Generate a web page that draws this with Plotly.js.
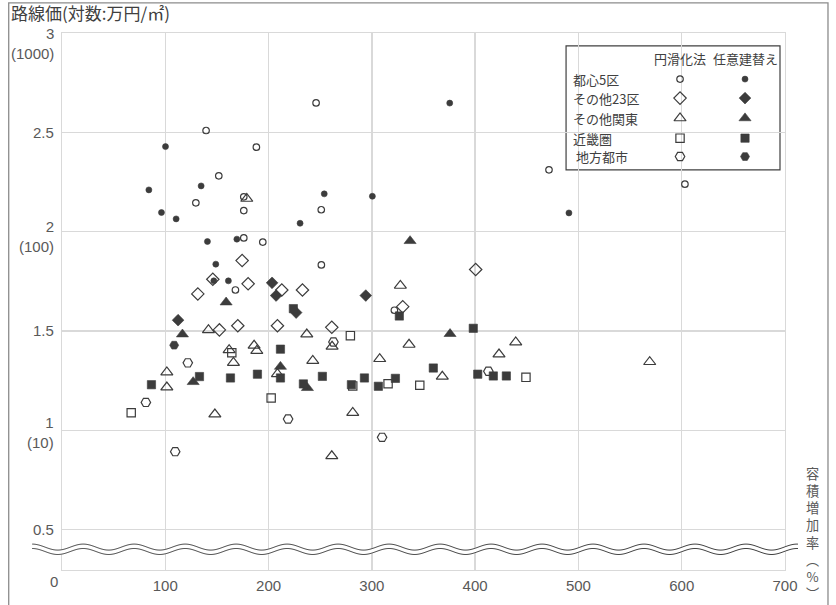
<!DOCTYPE html>
<html><head><meta charset="utf-8">
<script src="https://cdn.plot.ly/plotly-3.0.1.min.js"></script>
<style>html,body{margin:0;padding:0;background:#fff;}#chart{width:836px;height:605px;}</style>
</head><body><div id="chart"></div>
<script>
// ---- data (x: 容積増加率 %, y: log10 路線価[万円/㎡]) ----
const seriesNames = ["都心5区", "その他23区", "その他関東", "近畿圏", "地方都市"];
const methodNames = ["円滑化法", "任意建替え"];

const toshin_enkatsu_x = [139.5, 188.2, 151.8, 129.6, 176.0, 176.0, 176.0, 194.4, 167.9, 251.1, 321.8, 471.5, 603.1, 246.0, 251.0];
const toshin_enkatsu_y = [2.509, 2.425, 2.281, 2.145, 2.175, 2.106, 1.968, 1.947, 1.706, 1.832, 1.604, 2.311, 2.239, 2.648, 2.110];
const toshin_nini_x = [100.2, 84.1, 134.7, 96.3, 110.5, 140.8, 169.3, 148.9, 230.5, 147.0, 161.1, 375.4, 300.5, 490.8, 253.9];
const toshin_nini_y = [2.428, 2.210, 2.230, 2.096, 2.064, 1.950, 1.962, 1.836, 2.042, 1.752, 1.752, 2.647, 2.178, 2.094, 2.190];

const ku23_enkatsu_x = [174.4, 146.0, 180.2, 131.5, 212.8, 232.8, 152.4, 170.2, 208.6, 329.9, 400.5, 261.2];
const ku23_enkatsu_y = [1.854, 1.760, 1.737, 1.686, 1.706, 1.706, 1.505, 1.526, 1.526, 1.622, 1.809, 1.518];
const ku23_nini_x = [203.4, 207.3, 226.7, 112.4, 294.1];
const ku23_nini_y = [1.742, 1.678, 1.592, 1.554, 1.678];

const kanto_enkatsu_x = [178.9, 141.8, 237.0, 161.8, 186.0, 188.6, 166.0, 242.8, 101.5, 101.5, 208.6, 148.0, 327.6, 261.5, 336.0, 307.6, 368.2, 423.1, 439.3, 281.5, 261.2, 569.0];
const kanto_enkatsu_y = [2.166, 1.505, 1.483, 1.404, 1.426, 1.400, 1.340, 1.350, 1.292, 1.216, 1.283, 1.080, 1.728, 1.421, 1.431, 1.359, 1.270, 1.382, 1.443, 1.088, 0.870, 1.344];
const kanto_nini_x = [158.9, 116.6, 127.0, 211.5, 237.6, 375.7, 337.0];
const kanto_nini_y = [1.644, 1.483, 1.243, 1.320, 1.213, 1.485, 1.953];

const kinki_enkatsu_x = [164.4, 67.0, 202.5, 279.2, 281.5, 315.7, 346.4, 449.2];
const kinki_enkatsu_y = [1.390, 1.088, 1.162, 1.476, 1.223, 1.234, 1.226, 1.266];
const kinki_nini_x = [224.0, 211.5, 86.6, 133.1, 163.1, 189.2, 211.5, 233.7, 252.1, 280.2, 292.8, 306.3, 322.8, 326.6, 359.5, 398.2, 402.5, 417.6, 430.2];
const kinki_nini_y = [1.612, 1.408, 1.229, 1.270, 1.263, 1.282, 1.263, 1.233, 1.271, 1.229, 1.263, 1.221, 1.261, 1.575, 1.313, 1.513, 1.282, 1.273, 1.273];

const chiho_enkatsu_x = [121.8, 81.2, 218.9, 109.6, 262.8, 412.8, 309.9];
const chiho_enkatsu_y = [1.339, 1.140, 1.056, 0.892, 1.444, 1.297, 0.964];
const chiho_nini_x = [108.6];
const chiho_nini_y = [1.428];

const xTickVals = [100, 200, 300, 400, 500, 600, 700];
const xTickText = ["100", "200", "300", "400", "500", "600", "700"];
const yTickVals = [0.5, 1, 1.5, 2, 2.5, 3];
const yTickText = ["0.5", "1<br>(10)", "1.5", "2<br>(100)", "2.5", "3<br>(1000)"];
const yTitle = "路線価(対数:万円/㎡)";
const xTitle = "容<br>積<br>増<br>加<br>率<br>︵<br>%<br>︶";

// ---- geometry ----
const W = 836, H = 605;
const L = 61.8, R = 785, T = 33.2, B = 570;
const pw = R - L, ph = B - T;
const px = x => (x - L) / pw;
const py = y => (B - y) / ph;

const DARK = "#3c3c3c";
const TICKC = "#595959";
const FONT = "'Noto Sans CJK JP', 'Noto Sans', sans-serif";
const NUMFONT = "'Liberation Sans', 'Noto Sans', sans-serif";

const styles = [
  {open: {symbol: "circle-open", size: 6.5}, fill: {symbol: "circle", size: 6}},
  {open: {symbol: "diamond-open", size: 9.5}, fill: {symbol: "diamond", size: 9}},
  {open: {symbol: "triangle-up-open", size: 10.5}, fill: {symbol: "triangle-up", size: 10.5}},
  {open: {symbol: "square-open", size: 8.3}, fill: {symbol: "square", size: 8.3}},
  {open: {symbol: "hexagon2-open", size: 9.5}, fill: {symbol: "hexagon2", size: 9}}
];
const seriesData = [
  [[toshin_enkatsu_x, toshin_enkatsu_y], [toshin_nini_x, toshin_nini_y]],
  [[ku23_enkatsu_x, ku23_enkatsu_y], [ku23_nini_x, ku23_nini_y]],
  [[kanto_enkatsu_x, kanto_enkatsu_y], [kanto_nini_x, kanto_nini_y]],
  [[kinki_enkatsu_x, kinki_enkatsu_y], [kinki_nini_x, kinki_nini_y]],
  [[chiho_enkatsu_x, chiho_enkatsu_y], [chiho_nini_x, chiho_nini_y]]
];

const traces = [];
for (let m = 0; m < 2; m++) {
  seriesData.forEach((sd, i) => {
    const st = m === 0 ? styles[i].open : styles[i].fill;
    traces.push({
      type: "scatter", mode: "markers",
      name: seriesNames[i] + " " + methodNames[m],
      x: sd[m][0], y: sd[m][1],
      marker: {symbol: st.symbol, size: st.size, color: DARK,
               line: {color: DARK, width: m === 0 ? 1.2 : 0.6}},
      showlegend: false, hoverinfo: "skip"
    });
  });
}

// custom legend (pixel-based overlay axes)
const legRows = [79.3, 98.3, 118.3, 138.3, 156.7];
const legColX = [680, 745];
for (let m = 0; m < 2; m++) {
  seriesNames.forEach((n, i) => {
    const st = m === 0 ? styles[i].open : styles[i].fill;
    traces.push({
      type: "scatter", mode: "markers", xaxis: "x2", yaxis: "y2",
      x: [legColX[m]], y: [legRows[i]],
      marker: {symbol: st.symbol, size: st.size, color: DARK,
               line: {color: DARK, width: m === 0 ? 1.2 : 0.6}},
      showlegend: false, hoverinfo: "skip"
    });
  });
}

const annotations = [];
const legFont = {family: FONT, size: 13, color: "#404040"};
methodNames.forEach((n, m) => {
  annotations.push({xref: "paper", yref: "paper", x: px(legColX[m]), y: py(58.5), text: n,
    showarrow: false, xanchor: "center", yanchor: "middle", font: legFont});
});
seriesNames.forEach((n, i) => {
  annotations.push({xref: "paper", yref: "paper", x: px(i === 4 ? 574 : 571), y: py(legRows[i]), text: n,
    showarrow: false, xanchor: "left", yanchor: "middle", font: legFont});
});
// y tick labels (two-line ones offset as in the reference)
const yLabelShift = [0, -2, 0, -5.3, 0, -10];
yTickVals.forEach((v, i) => {
  annotations.push({xref: "paper", yref: "y", x: px(56), y: v, yshift: yLabelShift[i], text: yTickText[i],
    showarrow: false, xanchor: "right", yanchor: "middle", align: "right",
    font: {family: NUMFONT, size: 15, color: TICKC}});
});
// y title
annotations.push({xref: "paper", yref: "paper", x: px(9), y: py(13), text: yTitle,
  showarrow: false, xanchor: "left", yanchor: "middle", font: {family: FONT, size: 17, color: "#404040"}});
// x title (vertical)
annotations.push({xref: "paper", yref: "paper", x: px(813), y: py(534), text: xTitle,
  showarrow: false, xanchor: "center", yanchor: "middle", font: {family: FONT, size: 13.2, color: TICKC}});
// "0" label
annotations.push({xref: "paper", yref: "paper", x: px(54), y: py(581), text: "0",
  showarrow: false, xanchor: "center", yanchor: "middle", font: {family: NUMFONT, size: 15, color: TICKC}});

// wave path (axis-break mark)
function wave(off) {
  const A = 3, Lw = 51, x0 = 32, x1 = 798, yc = 549.3;
  let s = "";
  for (let x = x0; x <= x1; x += 1) {
    const y = yc + off - A * Math.cos(2 * Math.PI * (x - x0) / Lw);
    s += (x === x0 ? "M" : "L") + px(x).toFixed(5) + "," + py(y).toFixed(5);
  }
  return s;
}

const shapes = [
  {type: "rect", xref: "paper", yref: "paper", layer: "between",
   x0: px(566), x1: px(780), y0: py(46), y1: py(170),
   fillcolor: "#ffffff", line: {color: "#404040", width: 1.2}},
  {type: "path", xref: "paper", yref: "paper", layer: "above", path: wave(0), line: {color: "#ffffff", width: 5}},
  {type: "path", xref: "paper", yref: "paper", layer: "above", path: wave(-2.2), line: {color: "#404040", width: 1}},
  {type: "path", xref: "paper", yref: "paper", layer: "above", path: wave(2.2), line: {color: "#404040", width: 1}},
  {type: "rect", xref: "paper", yref: "paper", layer: "above",
   x0: px(8.5), x1: px(828), y0: py(615), y1: py(3),
   line: {color: "#8c8c8c", width: 1.3}}
];

const layout = {
  width: W, height: H,
  margin: {l: L, r: W - R, t: T, b: H - B, pad: 0},
  paper_bgcolor: "#ffffff", plot_bgcolor: "#ffffff",
  showlegend: false,
  font: {family: FONT, color: TICKC, size: 15},
  xaxis: {range: [0, 700], tickvals: xTickVals, ticktext: xTickText, showgrid: true,
          gridcolor: "#d9d9d9", gridwidth: 1.3, zeroline: false, showline: true, mirror: true,
          linecolor: "#d9d9d9", linewidth: 1.3, ticks: "", ticklabelstandoff: 2,
          tickfont: {family: NUMFONT, size: 15, color: TICKC}},
  yaxis: {range: [0.296, 3], tickvals: yTickVals, showticklabels: false, showgrid: true,
          gridcolor: "#d9d9d9", gridwidth: 1.3, zeroline: false, showline: true, mirror: true,
          linecolor: "#d9d9d9", linewidth: 1.3, ticks: ""},
  xaxis2: {overlaying: "x", range: [L, R], visible: false, fixedrange: true},
  yaxis2: {overlaying: "y", range: [B, T], visible: false, fixedrange: true},
  shapes: shapes,
  annotations: annotations
};

Plotly.newPlot("chart", traces, layout, {staticPlot: true, displayModeBar: false});
</script>
</body></html>
